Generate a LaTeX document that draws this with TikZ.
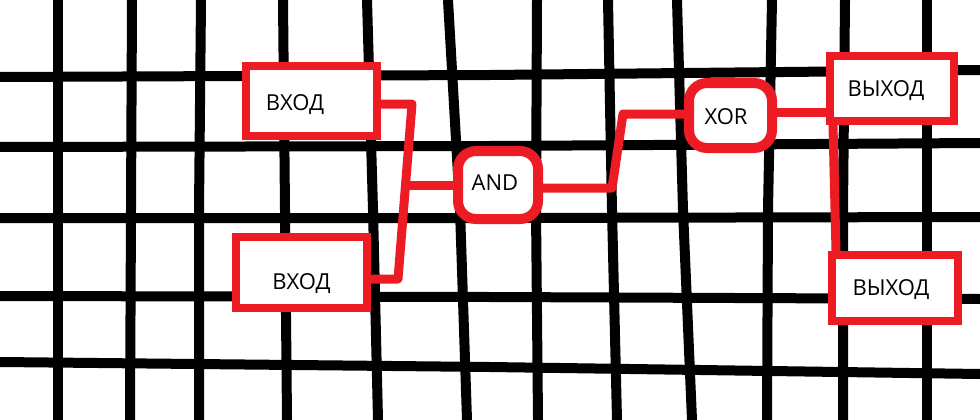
\documentclass[tikz,border=0pt]{standalone}
\usepackage{fontspec}
\setmainfont{Open Sans}
\definecolor{pred}{HTML}{ED1C24}
\newcommand{\offtext}[3]{\hspace*{#1}\raisebox{#2}[\height][\depth]{#3}\hspace*{-#1}}
\pgfdeclarelayer{gridlayer}
\pgfdeclarelayer{wirelayer}
\pgfsetlayers{gridlayer,wirelayer,main}
\begin{document}
\begin{tikzpicture}[x=1pt,y=-1pt,
  gridline/.style={line width=10pt, black, line join=round},
  wire/.style={line width=9pt, pred, line join=round},
  rbox/.style={draw=pred, line width=8pt, fill=white, inner sep=0pt, text depth=0pt, font=\fontsize{22}{26}\selectfont},
  gbox/.style={rbox, line width=10pt, rounded corners=18pt}]
\useasboundingbox (0,0) rectangle (980,420);

% boxes
\node[rbox, minimum width=131pt, minimum height=70pt] (in1) at (311.5,101) {\offtext{-16.5pt}{-2pt}{ВХОД}};
\node[rbox, minimum width=131pt, minimum height=71pt] (in2) at (301.5,272.5) {\offtext{0pt}{-9.5pt}{ВХОД}};
\node[gbox, minimum width=80pt, minimum height=68pt] (and) at (498,185) {\offtext{-3pt}{2pt}{AND}};
\node[gbox, minimum width=83pt, minimum height=65pt] (xor) at (730.5,115.5) {\offtext{-4.5pt}{-1.5pt}{XOR}};
\node[rbox, minimum width=124pt, minimum height=65pt] (out1) at (892,88.5) {\offtext{-6pt}{0pt}{ВЫХОД}};
\node[rbox, minimum width=126pt, minimum height=66pt] (out2) at (895,288) {\offtext{-4pt}{0pt}{ВЫХОД}};

% grid
\begin{pgfonlayer}{gridlayer}
\foreach \a/\b/\c in {58/58/58, 132/131/130, 201/199/199, 283/285/287, 367/373/378, 448/460/467,
                      537/536/538, 608/612/617, 677/683/692, 772/768/767, 845/843/843, 927/927/927}
  \draw[gridline] (\a,0) -- (\b,210) -- (\c,420);
\foreach \a/\b/\c in {77/75/70, 147/146/143, 218/218/217, 296/297/299, 362/367/374}
  \draw[gridline] (0,\a) -- (490,\b) -- (980,\c);
\end{pgfonlayer}

% connectors
\coordinate (j1) at (412,104);
\coordinate (j2) at (398,279);
\coordinate (jm) at (405,185);
\coordinate (k1) at (612,188);
\coordinate (k2) at (623,114);
\coordinate (x1) at (800,112);
\coordinate (m1) at (833,125);
\coordinate (m2) at (836,253);
\begin{pgfonlayer}{wirelayer}
\draw[wire] (in1.east |- j1) -- (j1) -- (j2) -- (in2.east |- j2);
\draw[wire] (jm) -- (and.west |- jm);
\draw[wire] (and.east |- k1) -- (k1) -- (k2) -- (xor.west |- k2);
\draw[wire] (xor.east |- x1) -- (out1.west |- x1);
\draw[wire] (out1.south -| m1) -- (out2.north -| m2);
\end{pgfonlayer}
\end{tikzpicture}
\end{document}
